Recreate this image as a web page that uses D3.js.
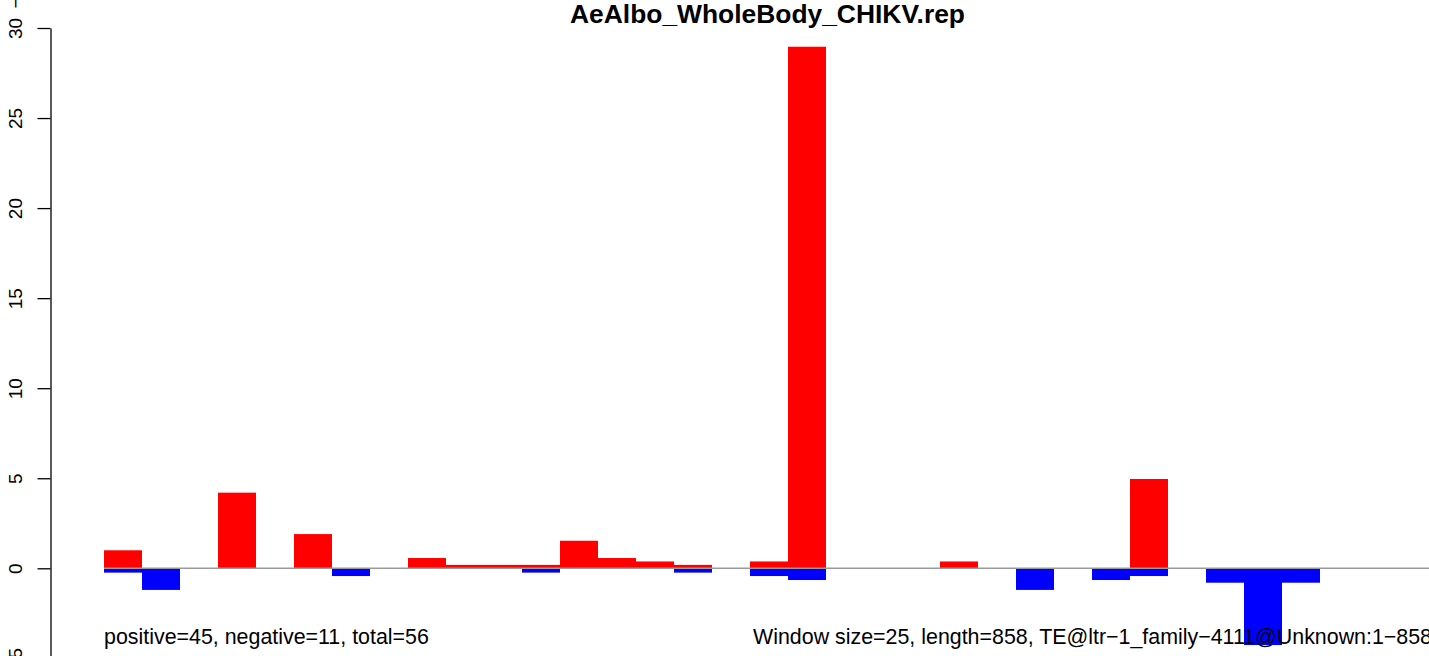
<!DOCTYPE html>
<html>
<head>
<meta charset="utf-8">
<script src="https://cdn.jsdelivr.net/npm/d3@7"></script>
<style>
  html, body { margin: 0; padding: 0; background: #fff; }
  svg { display: block; font-family: "Liberation Sans", Arial, Helvetica, sans-serif; }
</style>
</head>
<body>
<svg id="chart" width="1429" height="656"></svg>
<script>
// ---- data ----
const titleText = "AeAlbo_WholeBody_CHIKV.rep";
const windowSize = 25;
const seqLength = 858;
const windowStarts = d3.range(0, seqLength, windowSize); // 35 windows
const positiveValues = [1.0, 0, 0, 4.2, 0, 1.9, 0, 0, 0.57, 0.19, 0.19, 0.19, 1.53, 0.57, 0.38, 0.19, 0, 0.38, 28.96, 0, 0, 0, 0.38, 0, 0, 0, 0, 4.96, 0, 0, 0, 0, 0, 0, 0];
const negativeValues = [-0.24, -1.2, 0, 0, 0, 0, -0.43, 0, 0, 0, 0, -0.24, 0, 0, 0, -0.24, 0, -0.43, -0.65, 0, 0, 0, 0, 0, -1.2, 0, -0.65, -0.43, 0, -0.8, -4.26, -0.8, 0, 0, 0];
const yTicks = [-5, 0, 5, 10, 15, 20, 25, 30];
const leftNote = "positive=45, negative=11, total=56";
const rightNote = "Window size=25, length=858, TE@ltr\u22121_family\u22124111@Unknown:1\u2212858";

// ---- scales ----
const svg = d3.select("#chart");
const x = d3.scaleLinear().domain([0, seqLength]).range([104, 104 + seqLength * 38 / windowSize]);
const y = d3.scaleLinear().domain([-5, 30]).range([658.35, 28]);

// bars
const posData = windowStarts.map((s, i) => ({s, v: positiveValues[i]})).filter(d => d.v !== 0);
const negData = windowStarts.map((s, i) => ({s, v: negativeValues[i]})).filter(d => d.v !== 0);

svg.append("g").selectAll("rect").data(posData).join("rect")
  .attr("x", d => x(d.s))
  .attr("width", d => x(d.s + windowSize) - x(d.s))
  .attr("y", d => y(d.v))
  .attr("height", d => y(0) - y(d.v))
  .attr("fill", "#ff0000");

svg.append("g").selectAll("rect").data(negData).join("rect")
  .attr("x", d => x(d.s))
  .attr("width", d => x(d.s + windowSize) - x(d.s))
  .attr("y", y(0))
  .attr("height", d => y(d.v) - y(0))
  .attr("fill", "#0000ff");

// zero line
svg.append("line")
  .attr("x1", x(0)).attr("x2", 1429)
  .attr("y1", y(0)).attr("y2", y(0))
  .attr("stroke", "#999999").attr("stroke-width", 1.5);

// y axis
const axis = svg.append("g")
  .attr("transform", "translate(50.5,0)")
  .call(d3.axisLeft(y).tickValues(yTicks).tickSize(13).tickSizeOuter(0).tickFormat(d => d < 0 ? "\u2212" + Math.abs(d) : d));
axis.select(".domain").attr("stroke", "#000").attr("stroke-width", 1.3);
axis.selectAll(".tick line").attr("stroke", "#000").attr("stroke-width", 1.3);
axis.selectAll(".tick text")
  .attr("font-size", 19)
  .attr("fill", "#000")
  .attr("x", 0).attr("dy", 0)
  .attr("text-anchor", "middle")
  .attr("transform", "translate(-28.5,0) rotate(-90)");

// stray glyph at the top of the axis labels
svg.append("text")
  .attr("transform", "translate(22,3) rotate(-90)")
  .attr("text-anchor", "middle")
  .attr("font-size", 19)
  .text("\u2212");

// title
svg.append("text")
  .attr("x", 767.5).attr("y", 23)
  .attr("text-anchor", "middle")
  .attr("font-weight", "bold")
  .attr("font-size", 26.4)
  .text(titleText);

// bottom notes
svg.append("text")
  .attr("x", 104).attr("y", 644)
  .attr("font-size", 21.4)
  .text(leftNote);
svg.append("text")
  .attr("x", 753).attr("y", 644)
  .attr("font-size", 21.4)
  .text(rightNote);
</script>
</body>
</html>
